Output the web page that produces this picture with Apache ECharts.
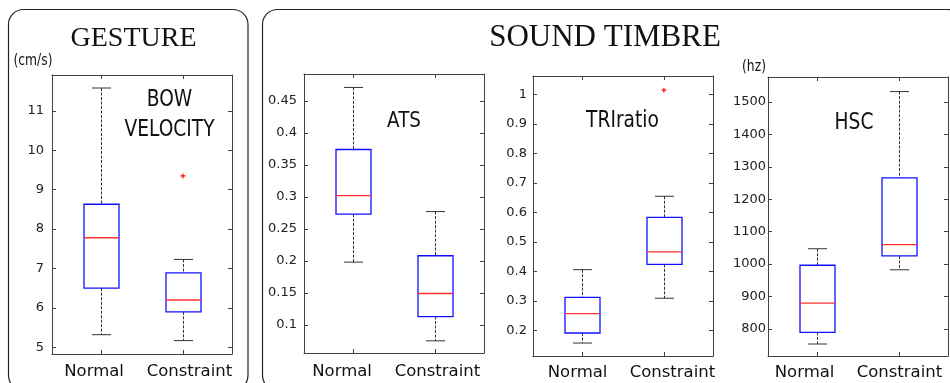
<!DOCTYPE html>
<html>
<head>
<meta charset="utf-8">
<script src="https://cdn.jsdelivr.net/npm/echarts@6/dist/echarts.min.js"></script>
<style>
  html, body { margin: 0; background: #fff; }
  #chart { width: 950px; height: 383px; }
</style>
</head>
<body>
<div id="chart"></div>
<script>
const groups = ['Normal', 'Constraint'];

// each box: [min, q1, median, q3, max]
const bowVelocity = [[5.32, 6.50, 7.78, 8.63, 11.58], [5.17, 5.90, 6.20, 6.89, 7.23]];
const bowOutliers = [[2, 9.35]];
const ats = [[0.198, 0.273, 0.302, 0.374, 0.471], [0.075, 0.113, 0.149, 0.208, 0.277]];
const atsOutliers = [];
const triRatio = [[0.157, 0.191, 0.257, 0.312, 0.406], [0.309, 0.424, 0.466, 0.583, 0.655]];
const triOutliers = [[2, 1.015]];
const hsc = [[753, 789, 879, 996, 1047], [982, 1025, 1060, 1266, 1532]];
const hscOutliers = [];

const bowTicks = [5, 6, 7, 8, 9, 10, 11];
const atsTicks = [0.1, 0.15, 0.2, 0.25, 0.3, 0.35, 0.4, 0.45];
const triTicks = [0.2, 0.3, 0.4, 0.5, 0.6, 0.7, 0.8, 0.9, 1];
const hscTicks = [800, 900, 1000, 1100, 1200, 1300, 1400, 1500];

const panels = [
  { box: bowVelocity, out: bowOutliers, ticks: bowTicks, min: 4.83, max: 11.91,
    left: 52, top: 75, height: 279, yMargin: 8, xMargin: 9, shift: [-7, 6.5] },
  { box: ats, out: atsOutliers, ticks: atsTicks, min: 0.056, max: 0.492,
    left: 304, top: 74, height: 279, yMargin: 7, xMargin: 10, shift: [-11, 2.5] },
  { box: triRatio, out: triOutliers, ticks: triTicks, min: 0.113, max: 1.063,
    left: 533, top: 76, height: 280, yMargin: 6, xMargin: 8, shift: [-4.5, 8.5] },
  { box: hsc, out: hscOutliers, ticks: hscTicks, min: 716, max: 1577,
    left: 768, top: 77, height: 279, yMargin: 2, xMargin: 8, shift: [-12.5, 0.5] }
];

const lineColor = '#404040';
const tickFont = { fontFamily: 'DejaVu Sans', fontSize: 13, color: '#222' };

function renderBox(params, api) {
  const x = api.value(0);
  const p = v => api.coord([x, v]);
  const lo = p(api.value(1)), q1 = p(api.value(2)), md = p(api.value(3));
  const q3 = p(api.value(4)), hi = p(api.value(5));
  const cx = Math.round(lo[0]) + 0.5, hw = 17.5, cw = 9.5;
  const dash = { stroke: '#333', lineWidth: 1, lineDash: [3, 1.5] };
  const solid = { stroke: '#333', lineWidth: 1 };
  return {
    type: 'group',
    children: [
      { type: 'line', shape: { x1: cx, y1: hi[1], x2: cx, y2: q3[1] }, style: dash },
      { type: 'line', shape: { x1: cx, y1: q1[1], x2: cx, y2: lo[1] }, style: dash },
      { type: 'line', shape: { x1: cx - cw, y1: hi[1], x2: cx + cw, y2: hi[1] }, style: solid },
      { type: 'line', shape: { x1: cx - cw, y1: lo[1], x2: cx + cw, y2: lo[1] }, style: solid },
      { type: 'rect', shape: { x: cx - hw, y: q3[1], width: hw * 2, height: q1[1] - q3[1] },
        style: { fill: 'none', stroke: '#1010ff', lineWidth: 1.3 } },
      { type: 'line', shape: { x1: cx - hw, y1: md[1], x2: cx + hw, y2: md[1] },
        style: { stroke: '#ff3030', lineWidth: 1.3 } }
    ]
  };
}

function renderPlus(params, api) {
  const c = api.coord([api.value(0), api.value(1)]);
  const s = { stroke: '#ff0000', lineWidth: 1.2 };
  return {
    type: 'group',
    children: [
      { type: 'line', shape: { x1: c[0] - 2.5, y1: c[1], x2: c[0] + 2.5, y2: c[1] }, style: s },
      { type: 'line', shape: { x1: c[0], y1: c[1] - 2.5, x2: c[0], y2: c[1] + 2.5 }, style: s }
    ]
  };
}

const grid = [], xAxis = [], yAxis = [], series = [];
panels.forEach((pn, i) => {
  grid.push({ left: pn.left, top: pn.top, width: 180, height: pn.height, outerBoundsMode: 'none' });
  const axisLine = { show: true, lineStyle: { color: lineColor, width: 1 } };
  const baseX = {
    type: 'value', gridIndex: i, min: 0.4, max: 2.6,
    splitLine: { show: false }, axisLine: axisLine,
    axisTick: { inside: true, length: 4, customValues: [1, 2], lineStyle: { color: lineColor } }
  };
  xAxis.push(Object.assign({}, baseX, {
    position: 'bottom',
    axisLabel: {
      customValues: [1, 2], margin: pn.xMargin,
      formatter: v => (v === 1 ? '{a|' + groups[0] + '}' : '{b|' + groups[1] + '}'),
      rich: {
        a: { fontFamily: 'DejaVu Sans', fontSize: 16.5, color: '#111', padding: [0, -2 * pn.shift[0], 0, 0] },
        b: { fontFamily: 'DejaVu Sans', fontSize: 16.5, color: '#111', padding: [0, 0, 0, 2 * pn.shift[1]] }
      }
    }
  }));
  xAxis.push(Object.assign({}, baseX, { position: 'top', axisLabel: { show: false } }));
  const baseY = {
    type: 'value', gridIndex: i, min: pn.min, max: pn.max,
    splitLine: { show: false }, axisLine: axisLine,
    axisTick: { inside: true, length: 4, customValues: pn.ticks, lineStyle: { color: lineColor } }
  };
  yAxis.push(Object.assign({}, baseY, {
    position: 'left',
    axisLabel: Object.assign({ customValues: pn.ticks, margin: pn.yMargin, formatter: v => String(v) }, tickFont)
  }));
  yAxis.push(Object.assign({}, baseY, { position: 'right', axisLabel: { show: false } }));

  series.push({
    type: 'custom', xAxisIndex: 2 * i, yAxisIndex: 2 * i, silent: true,
    renderItem: renderBox,
    data: pn.box.map((b, k) => [k + 1].concat(b))
  });
  series.push({
    type: 'custom', xAxisIndex: 2 * i, yAxisIndex: 2 * i, silent: true,
    renderItem: renderPlus,
    data: pn.out
  });
});

function label(text, x, y, size, extra) {
  return {
    type: 'text', x: x, y: y, silent: true,
    style: Object.assign({
      text: text, fontFamily: 'DejaVu Sans', fontSize: size, fill: '#111',
      align: 'center', verticalAlign: 'middle'
    }, extra || {})
  };
}

const graphic = [
  { type: 'rect', silent: true, shape: { x: 8.5, y: 9.5, width: 239.5, height: 381, r: 15 },
    style: { fill: 'none', stroke: '#222', lineWidth: 1.2 } },
  { type: 'rect', silent: true, shape: { x: 262.5, y: 9.5, width: 700, height: 381, r: 15 },
    style: { fill: 'none', stroke: '#222', lineWidth: 1.2 } },
  label('GESTURE', 133.5, 39, 28, { fontFamily: 'Liberation Serif' }),
  label('SOUND TIMBRE', 605, 38, 31, { fontFamily: 'Liberation Serif' }),
  Object.assign(label('(cm/s)', 33, 61, 15), { scaleX: 0.82 }),
  Object.assign(label('(hz)', 754, 67, 15), { scaleX: 0.82 }),
  Object.assign(label('BOW\nVELOCITY', 169.5, 115, 23, { lineHeight: 30 }), { scaleX: 0.81 }),
  Object.assign(label('ATS', 404, 121, 21.5), { scaleX: 0.85 }),
  Object.assign(label('TRIratio', 622.5, 121, 23), { scaleX: 0.81 }),
  Object.assign(label('HSC', 854, 123, 23), { scaleX: 0.81 })
];

const chart = echarts.init(document.getElementById('chart'), null, { renderer: 'canvas' });
chart.setOption({
  animation: false,
  backgroundColor: '#fff',
  grid: grid,
  xAxis: xAxis,
  yAxis: yAxis,
  series: series,
  graphic: graphic
});
</script>
</body>
</html>
